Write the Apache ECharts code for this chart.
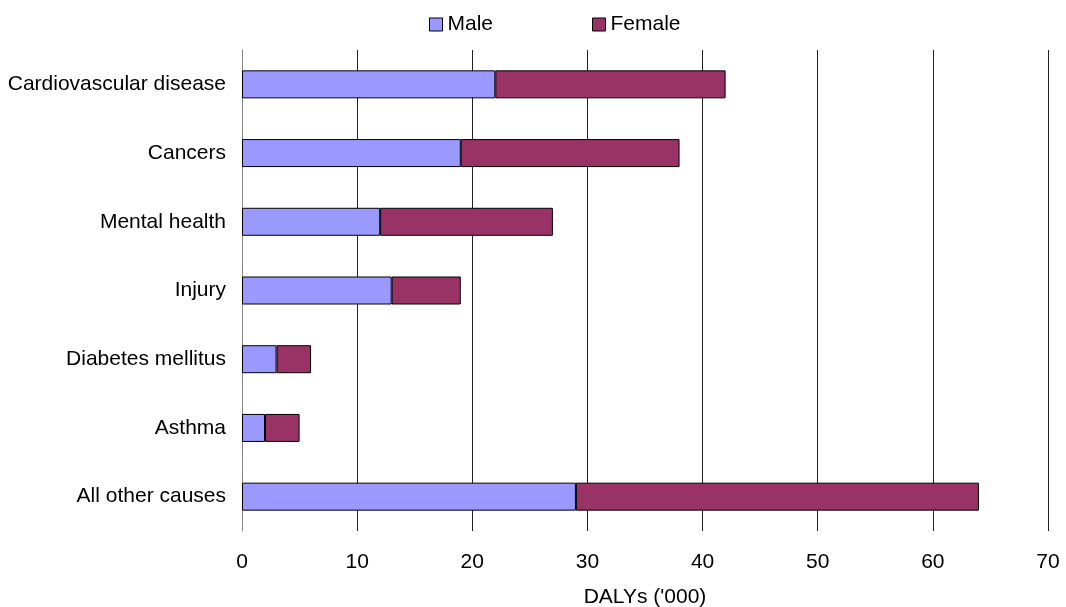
<!DOCTYPE html>
<html>
<head>
<meta charset="utf-8">
<script src="https://cdn.jsdelivr.net/npm/echarts@6/dist/echarts.min.js"></script>
<style>
  html, body { margin: 0; padding: 0; background: #fff; }
  #chart { width: 1066px; height: 607px; }
</style>
</head>
<body>
<div id="chart"></div>
<script>
// causes, top to bottom as shown
var causes = ['Cardiovascular disease', 'Cancers', 'Mental health', 'Injury',
              'Diabetes mellitus', 'Asthma', 'All other causes'];
var male = [22, 19, 12, 13, 3, 2, 29];
var female = [20, 19, 15, 6, 3, 3, 35];

var font = 'Liberation Sans, Arial, sans-serif';
var myChart = echarts.init(document.getElementById('chart'));

var option = {
    animation: false,
    textStyle: { fontFamily: font },
    legend: {
        top: 9,
        left: 424,
        icon: 'rect',
        itemWidth: 13,
        itemHeight: 13,
        itemGap: 99,
        textStyle: { fontSize: 21, color: '#000', fontFamily: font },
        itemStyle: { borderColor: '#000', borderWidth: 1 },
        data: ['Male', 'Female']
    },
    grid: {
        left: 242,
        right: 18,
        top: 50,
        bottom: 76,
        containLabel: false,
        outerBoundsMode: 'none'
    },
    xAxis: {
        type: 'value',
        min: 0,
        max: 70,
        interval: 10,
        name: "DALYs ('000)",
        nameLocation: 'middle',
        nameGap: 56,
        nameTextStyle: { fontSize: 21, color: '#000', fontFamily: font },
        axisLine: { show: false },
        axisTick: { show: false },
        axisLabel: { fontSize: 21, color: '#000', margin: 21, fontFamily: font },
        splitLine: { show: true, lineStyle: { color: '#222', width: 1 } }
    },
    yAxis: {
        type: 'category',
        inverse: true,
        data: causes,
        axisLine: { show: true, lineStyle: { color: '#888', width: 1 } },
        axisTick: { show: false },
        axisLabel: { fontSize: 21, color: '#000', margin: 16, fontFamily: font }
    },
    series: [
        {
            name: 'Male',
            type: 'bar',
            stack: 'total',
            barWidth: 28,
            data: male,
            itemStyle: { color: '#9999FF', borderColor: '#000', borderWidth: 1 }
        },
        {
            name: 'Female',
            type: 'bar',
            stack: 'total',
            barWidth: 28,
            data: female,
            itemStyle: { color: '#993366', borderColor: '#000', borderWidth: 1 }
        }
    ]
};

myChart.setOption(option);
</script>
</body>
</html>
